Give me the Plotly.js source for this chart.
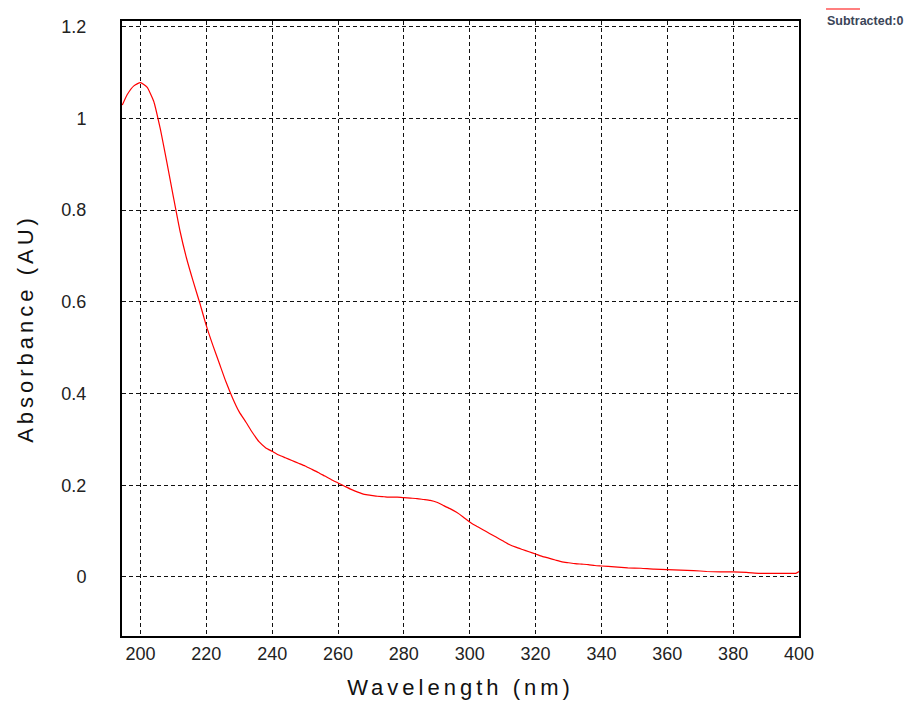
<!DOCTYPE html>
<html>
<head>
<meta charset="utf-8">
<script src="https://cdn.plot.ly/plotly-3.0.1.min.js"></script>
<style>
  html, body { margin: 0; padding: 0; background: #fff; }
  #chart { width: 907px; height: 704px; }
  .xtitle, .ytitle { letter-spacing: 4px; }
</style>
</head>
<body>
<div id="chart"></div>
<script>
// UV absorbance spectrum (subtracted baseline)
const seriesName = 'Subtracted:0';

const wavelength = [
  194.5, 196, 198, 200, 202, 204, 206, 208, 210, 212, 214, 216, 218, 220,
  222, 224, 226, 228, 230, 232, 234, 236, 238, 240, 242, 244, 246, 248, 250,
  252, 254, 256, 258, 260, 262, 264, 266, 268, 270, 272, 274, 276, 278, 280,
  282, 284, 286, 288, 290, 292, 294, 296, 298, 300, 302, 304, 306, 308, 310,
  312, 314, 316, 318, 320, 322, 324, 326, 328, 330, 332, 334, 336, 338, 340,
  344, 348, 352, 356, 360, 364, 368, 372, 376, 380, 384, 388, 392, 396, 399, 400
];

const absorbance = [
  1.029, 1.052, 1.071, 1.078, 1.068, 1.038, 0.978, 0.905, 0.829, 0.755, 0.695, 0.645, 0.598, 0.548,
  0.505, 0.465, 0.425, 0.390, 0.360, 0.338, 0.315, 0.295, 0.282, 0.274, 0.266, 0.260, 0.254, 0.248, 0.242,
  0.235, 0.228, 0.220, 0.212, 0.205, 0.198, 0.191, 0.185, 0.180, 0.178, 0.176, 0.175, 0.174, 0.174, 0.173,
  0.172, 0.171, 0.169, 0.167, 0.163, 0.156, 0.149, 0.141, 0.131, 0.120, 0.111, 0.103, 0.095, 0.087, 0.079,
  0.071, 0.065, 0.060, 0.055, 0.050, 0.045, 0.041, 0.037, 0.033, 0.031, 0.029, 0.028, 0.027, 0.025, 0.024,
  0.022, 0.020, 0.019, 0.017, 0.016, 0.015, 0.014, 0.012, 0.011, 0.011, 0.010, 0.008, 0.008, 0.008, 0.008, 0.012
];

const xTicks = [200, 220, 240, 260, 280, 300, 320, 340, 360, 380, 400];
const yTicks = [0, 0.2, 0.4, 0.6, 0.8, 1, 1.2];

const lineColor = '#ff0000';
const tickFont = { family: '"Liberation Sans", Arial, sans-serif', size: 18, color: '#222' };
const titleFont = { family: '"Liberation Sans", Arial, sans-serif', size: 22, color: '#111' };

const trace = {
  x: wavelength,
  y: absorbance,
  type: 'scatter',
  mode: 'lines',
  name: seriesName,
  line: { color: lineColor, width: 1.2, shape: 'spline', smoothing: 0.5 },
  showlegend: false,
  hoverinfo: 'x+y'
};

const axisCommon = {
  showline: true,
  mirror: true,
  linecolor: '#000',
  linewidth: 2,
  showgrid: true,
  gridcolor: '#111',
  gridwidth: 1,
  griddash: '4px,3px',
  zeroline: false,
  ticks: '',
  tickfont: tickFont
};

const layout = {
  width: 907,
  height: 704,
  paper_bgcolor: '#fff',
  plot_bgcolor: '#fff',
  margin: { l: 122, r: 108, t: 21, b: 68 },
  xaxis: Object.assign({}, axisCommon, {
    range: [194.4, 400],
    tickvals: xTicks,
    ticktext: xTicks.map(String),
    ticklabelstandoff: 0,
    title: { text: 'Wavelength (nm)', font: titleFont, standoff: 17 }
  }),
  yaxis: Object.assign({}, axisCommon, {
    range: [-0.1287, 1.2124],
    tickvals: yTicks,
    ticktext: yTicks.map(String),
    ticklabelstandoff: 30,
    title: { text: 'Absorbance (AU)', font: titleFont, standoff: 22 }
  }),
  shapes: [{
    type: 'line', xref: 'paper', yref: 'paper',
    x0: 1.0399, x1: 1.0901, y0: 1.0195, y1: 1.0195,
    line: { color: lineColor, width: 1.2 }
  }],
  annotations: [{
    xref: 'paper', yref: 'paper',
    x: 1.0385, y: 1.0,
    xanchor: 'left', yanchor: 'middle',
    text: seriesName,
    showarrow: false,
    font: { family: '"Liberation Sans", Arial, sans-serif', size: 12.5, weight: 'bold', color: '#3b4558' }
  }]
};

Plotly.newPlot('chart', [trace], layout, { displayModeBar: false, staticPlot: true });
</script>
</body>
</html>
